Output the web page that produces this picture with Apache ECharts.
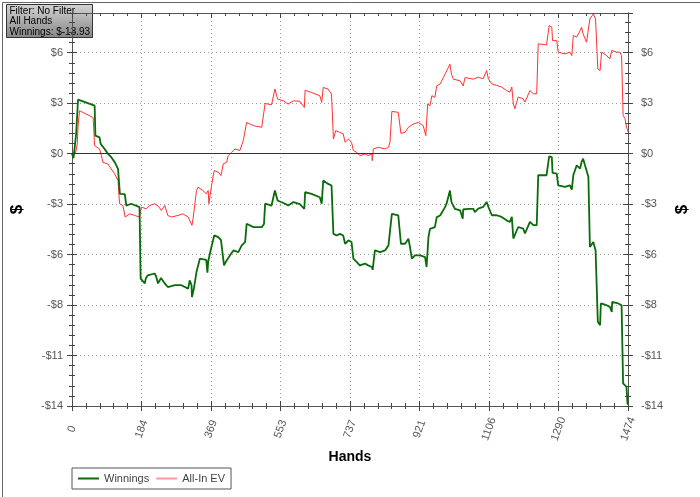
<!DOCTYPE html>
<html>
<head>
<meta charset="utf-8">
<script src="https://cdn.jsdelivr.net/npm/echarts@6/dist/echarts.min.js"></script>
<style>
  html,body{margin:0;padding:0;background:#fff;}
  #chart{width:700px;height:497px;}
</style>
</head>
<body>
<div id="chart"></div>
<script>
  // [hand, $]
  let winnings = [[0,0],[4,-0.25],[9,-0.3],[11,1.1],[14,1.2],[16,3.0],[21,3.1],[60,2.66],[62,1.0],[73,0.9],[76,0.54],[85,0.3],[95,0],
    [104,-0.2],[114,-0.5],[122,-0.85],[126,-0.9],[127,-2.23],[140,-2.25],[144,-2.88],[157,-2.78],[179,-2.97],[182,-6.93],[193,-7.2],
    [196,-6.9],[201,-6.75],[219,-6.65],[223,-6.8],[228,-7.2],[236,-6.9],[246,-7.2],[254,-7.4],[273,-7.3],[290,-7.3],[308,-7.49],
    [312,-7.03],[317,-7.3],[318,-7.95],[323,-7.5],[330,-6.57],[339,-5.83],[356,-5.9],[359,-6.6],[361,-6.0],[366,-5.5],[377,-4.54],
    [388,-4.63],[395,-4.8],[403,-6.2],[408,-6.0],[419,-5.64],[428,-5.37],[441,-5.46],[450,-5.09],[459,-4.91],[463,-3.89],[481,-4.08],
    [503,-4.08],[509,-3.9],[512,-2.78],[529,-2.88],[538,-2.05],[545,-2.6],[565,-2.78],[573,-2.88],[587,-2.69],[604,-2.8],[616,-3.06],
    [618,-2.14],[635,-2.23],[657,-2.42],[662,-2.78],[666,-1.49],[679,-1.68],[688,-1.77],[693,-4.45],[702,-4.54],[710,-4.45],[719,-4.54],
    [724,-5.0],[733,-4.81],[741,-4.9],[746,-5.83],[755,-6.02],[763,-6.2],[777,-6.1],[785,-6.2],[795,-6.29],[797,-6.45],[803,-5.37],
    [817,-5.46],[830,-5.37],[839,-5.09],[843,-5.2],[848,-3.34],[865,-3.43],[870,-3.52],[872,-5.0],[883,-5.0],[892,-4.72],[896,-5.19],
    [901,-5.83],[909,-5.64],[923,-5.64],[936,-5.74],[940,-6.29],[945,-4.63],[949,-4.17],[962,-4.08],[967,-3.52],[976,-3.43],[989,-2.97],
    [993,-2.78],[1002,-2.05],[1006,-2.69],[1015,-3.06],[1029,-3.15],[1036,-3.61],[1037,-3.1],[1051,-3.06],[1064,-3.06],[1068,-3.24],
    [1077,-3.05],[1090,-2.96],[1099,-2.68],[1104,-2.96],[1113,-3.42],[1126,-3.42],[1139,-3.51],[1152,-3.7],[1161,-3.79],[1166,-3.51],
    [1170,-4.71],[1174,-4.81],[1183,-4.07],[1196,-4.16],[1201,-4.43],[1205,-4.53],[1214,-3.79],[1223,-3.97],[1232,-3.97],[1236,-1.2],
    [1258,-1.2],[1265,-0.15],[1272,-0.19],[1274,-1.07],[1285,-1.11],[1289,-1.76],[1307,-1.85],[1320,-1.76],[1325,-2.0],[1329,-1.2],
    [1338,-0.65],[1347,-0.83],[1351,-0.46],[1355,-0.28],[1360,-0.65],[1369,-1.3],[1373,-5.18],[1378,-5.27],[1382,-4.9],[1388,-5.36],
    [1394,-9.33],[1400,-9.52],[1402,-8.31],[1417,-8.41],[1426,-8.5],[1431,-8.78],[1432,-8.23],[1448,-8.31],[1457,-8.41],[1461,-12.75],
    [1470,-12.94],[1473,-13.93],[1474,-13.93]]

  let allInEV = [[0,0],[9,0],[11,0.2],[14,0.54],[16,1.5],[20,2.38],[23,2.45],[56,2.0],[60,0.44],[73,0.26],[78,-0.11],[82,-0.48],
    [95,-0.57],[104,-0.85],[113,-1.12],[122,-1.49],[126,-2.78],[135,-2.88],[141,-3.52],[153,-3.34],[166,-3.43],[179,-3.52],[184,-2.97],
    [197,-3.06],[206,-2.88],[219,-2.78],[228,-2.9],[237,-3.15],[246,-2.88],[254,-3.43],[263,-3.52],[281,-3.43],[294,-3.34],[308,-3.52],
    [318,-3.98],[321,-3.6],[330,-2.05],[334,-1.86],[347,-2.05],[356,-2.23],[361,-2.05],[363,-2.78],[366,-2.32],[370,-1.77],[377,-0.94],
    [388,-1.03],[395,-1.22],[401,-0.57],[410,-0.48],[414,-0.11],[423,0.07],[432,0.26],[445,0.17],[454,0.72],[463,1.73],[481,1.55],
    [503,1.46],[512,2.78],[529,2.71],[538,3.58],[545,3.03],[560,2.93],[573,2.75],[587,2.93],[604,2.9],[616,2.56],[618,3.52],[635,3.39],
    [657,3.21],[662,2.84],[666,3.67],[679,3.58],[688,3.3],[693,0.81],[699,1.27],[710,1.18],[719,1.09],[724,0.63],[733,0.81],[741,0.63],
    [746,0.17],[755,0.07],[763,-0.11],[777,-0.02],[785,-0.11],[795,-0.02],[796,-0.39],[799,0.26],[812,0.35],[830,0.26],[839,0.35],
    [843,0.63],[848,2.34],[865,2.29],[870,2.2],[872,1.12],[883,1.18],[892,1.46],[905,1.64],[918,1.73],[931,1.55],[938,1.0],[943,2.75],
    [949,2.66],[954,3.21],[962,3.12],[967,3.76],[976,3.86],[989,4.41],[1002,4.96],[1006,4.4],[1011,4.13],[1029,4.04],[1037,3.76],
    [1042,4.22],[1064,4.13],[1077,4.24],[1090,4.15],[1099,4.61],[1104,4.15],[1113,3.87],[1126,3.78],[1139,3.69],[1152,3.5],[1161,3.41],
    [1166,3.69],[1170,2.77],[1174,2.49],[1183,3.14],[1196,3.04],[1201,2.86],[1205,2.77],[1214,3.5],[1223,3.32],[1232,3.32],[1236,6.09],
    [1258,6.03],[1265,7.1],[1272,7.01],[1274,6.27],[1285,6.27],[1289,5.63],[1307,5.53],[1320,5.63],[1325,5.44],[1329,6.55],[1334,6.64],
    [1338,6.46],[1347,6.82],[1351,7.01],[1355,6.64],[1364,6.18],[1373,7.47],[1382,7.75],[1388,7.47],[1394,4.7],[1400,4.61],[1404,5.63],
    [1417,5.44],[1426,5.26],[1431,5.72],[1444,5.63],[1452,5.63],[1457,5.44],[1461,2.12],[1466,1.94],[1470,1.48],[1473,1.29],[1474,1.2]]

  let seriesNames = ['Winnings', 'All-In EV']
  let infoLines = ['Filter: No Filter', 'All Hands', 'Winnings: $-13.93']
  let handMax = 1474
  let handStep = 184.25
  let yMin = -14, yMax = 7.8, yStep = 2.8

  let chart = echarts.init(document.getElementById('chart'))
  let font = 'Liberation Sans, Arial, sans-serif'

  function dollar(v){
    if (Math.abs(v / yStep - Math.round(v / yStep)) > 0.01) return ''
    let r = Math.round(v)
    return r < 0 ? '-$' + (-r) : '$' + r
  }

  function xAxis(pos, inside, labels){
    return {
      type: 'value', position: pos, min: 0, max: handMax, interval: handStep,
      axisLine: {show: true, onZero: false, lineStyle: {color: '#555'}},
      axisTick: {show: true, inside: inside, length: 5, lineStyle: {color: '#444'}},
      minorTick: {show: true, splitNumber: 5, length: 3, lineStyle: {color: '#444'}},
      axisLabel: {
        show: labels, rotate: 70, align: 'center', verticalAlign: 'middle', margin: 23,
        color: '#555', fontSize: 11, fontFamily: font,
        formatter: function(v){ return String(Math.round(v)) }
      },
      splitLine: {show: labels, lineStyle: {color: '#999', type: [1, 3]}},
      name: labels && pos == 'bottom' ? 'Hands' : '',
      nameLocation: 'middle', nameGap: 42,
      nameTextStyle: {color: '#000', fontSize: 14, fontWeight: 'bold', fontFamily: font}
    }
  }

  function yAxis(pos, inside, labels){
    return {
      type: 'value', position: pos, min: yMin, max: yMax, interval: yStep,
      axisLine: {show: true, onZero: false, lineStyle: {color: '#555'}},
      axisTick: {show: true, inside: inside, length: 5, lineStyle: {color: '#444'}},
      minorTick: {show: true, splitNumber: 5, length: 3, lineStyle: {color: '#444'}},
      axisLabel: {
        show: labels, margin: pos == 'left' ? 9 : 13,
        color: '#555', fontSize: 11, fontFamily: font, formatter: dollar
      },
      splitLine: {show: labels && pos == 'left', lineStyle: {color: '#999', type: [1, 3]}},
      name: labels ? '$' : '',
      nameLocation: 'middle', nameGap: pos == 'left' ? 46 : 42,
      nameTextStyle: {color: '#000', fontSize: 17, fontWeight: 'bold', fontFamily: font}
    }
  }

  let option = {
    animation: false,
    backgroundColor: '#fff',
    grid: {left: 72, right: 72, top: 13, bottom: 91},
    legend: {
      left: 72, top: 468, icon: 'rect', itemWidth: 21, itemHeight: 2, itemGap: 7,
      padding: [5, 6], borderColor: '#555', borderWidth: 1, borderRadius: 0, backgroundColor: '#fff',
      textStyle: {color: '#444', fontSize: 11, fontFamily: font},
      data: seriesNames
    },
    xAxis: [xAxis('bottom', false, true), xAxis('bottom', true, false), xAxis('top', true, false)],
    yAxis: [yAxis('left', false, true), yAxis('left', true, false), yAxis('right', false, true), yAxis('right', true, false)],
    series: [
      {
        name: seriesNames[1], type: 'line', data: allInEV, symbol: 'none',
        lineStyle: {color: '#ff3030', width: 1}, itemStyle: {color: '#ff9a9a'},
        markLine: {
          silent: true, symbol: 'none', label: {show: false},
          lineStyle: {color: '#333', type: 'solid', width: 1},
          data: [{yAxis: 0}]
        }
      },
      {
        name: seriesNames[0], type: 'line', data: winnings, symbol: 'none',
        lineStyle: {color: '#0a6b0a', width: 1.8}, itemStyle: {color: '#0a6b0a'}
      }
    ],
    graphic: [
      {
        type: 'rect', left: 0, top: 0, z: 100, silent: true,
        shape: {width: 699, height: 496},
        style: {fill: 'none', stroke: '#666', lineWidth: 1}
      },
      {
        type: 'group', left: 6, top: 4, z: 100,
        children: [
          {
            type: 'rect', shape: {width: 86, height: 33},
            style: {
              stroke: '#333', lineWidth: 1,
              fill: new echarts.graphic.LinearGradient(0, 0, 0, 1, [
                {offset: 0, color: '#d4d4d4'}, {offset: 1, color: '#868686'}
              ])
            }
          },
          {
            type: 'text', left: 3, top: 1,
            style: {text: infoLines.join('\n'), fill: '#000', font: '10px ' + font, lineHeight: 10.5}
          }
        ]
      }
    ]
  }
  chart.setOption(option)
</script>
</body>
</html>
